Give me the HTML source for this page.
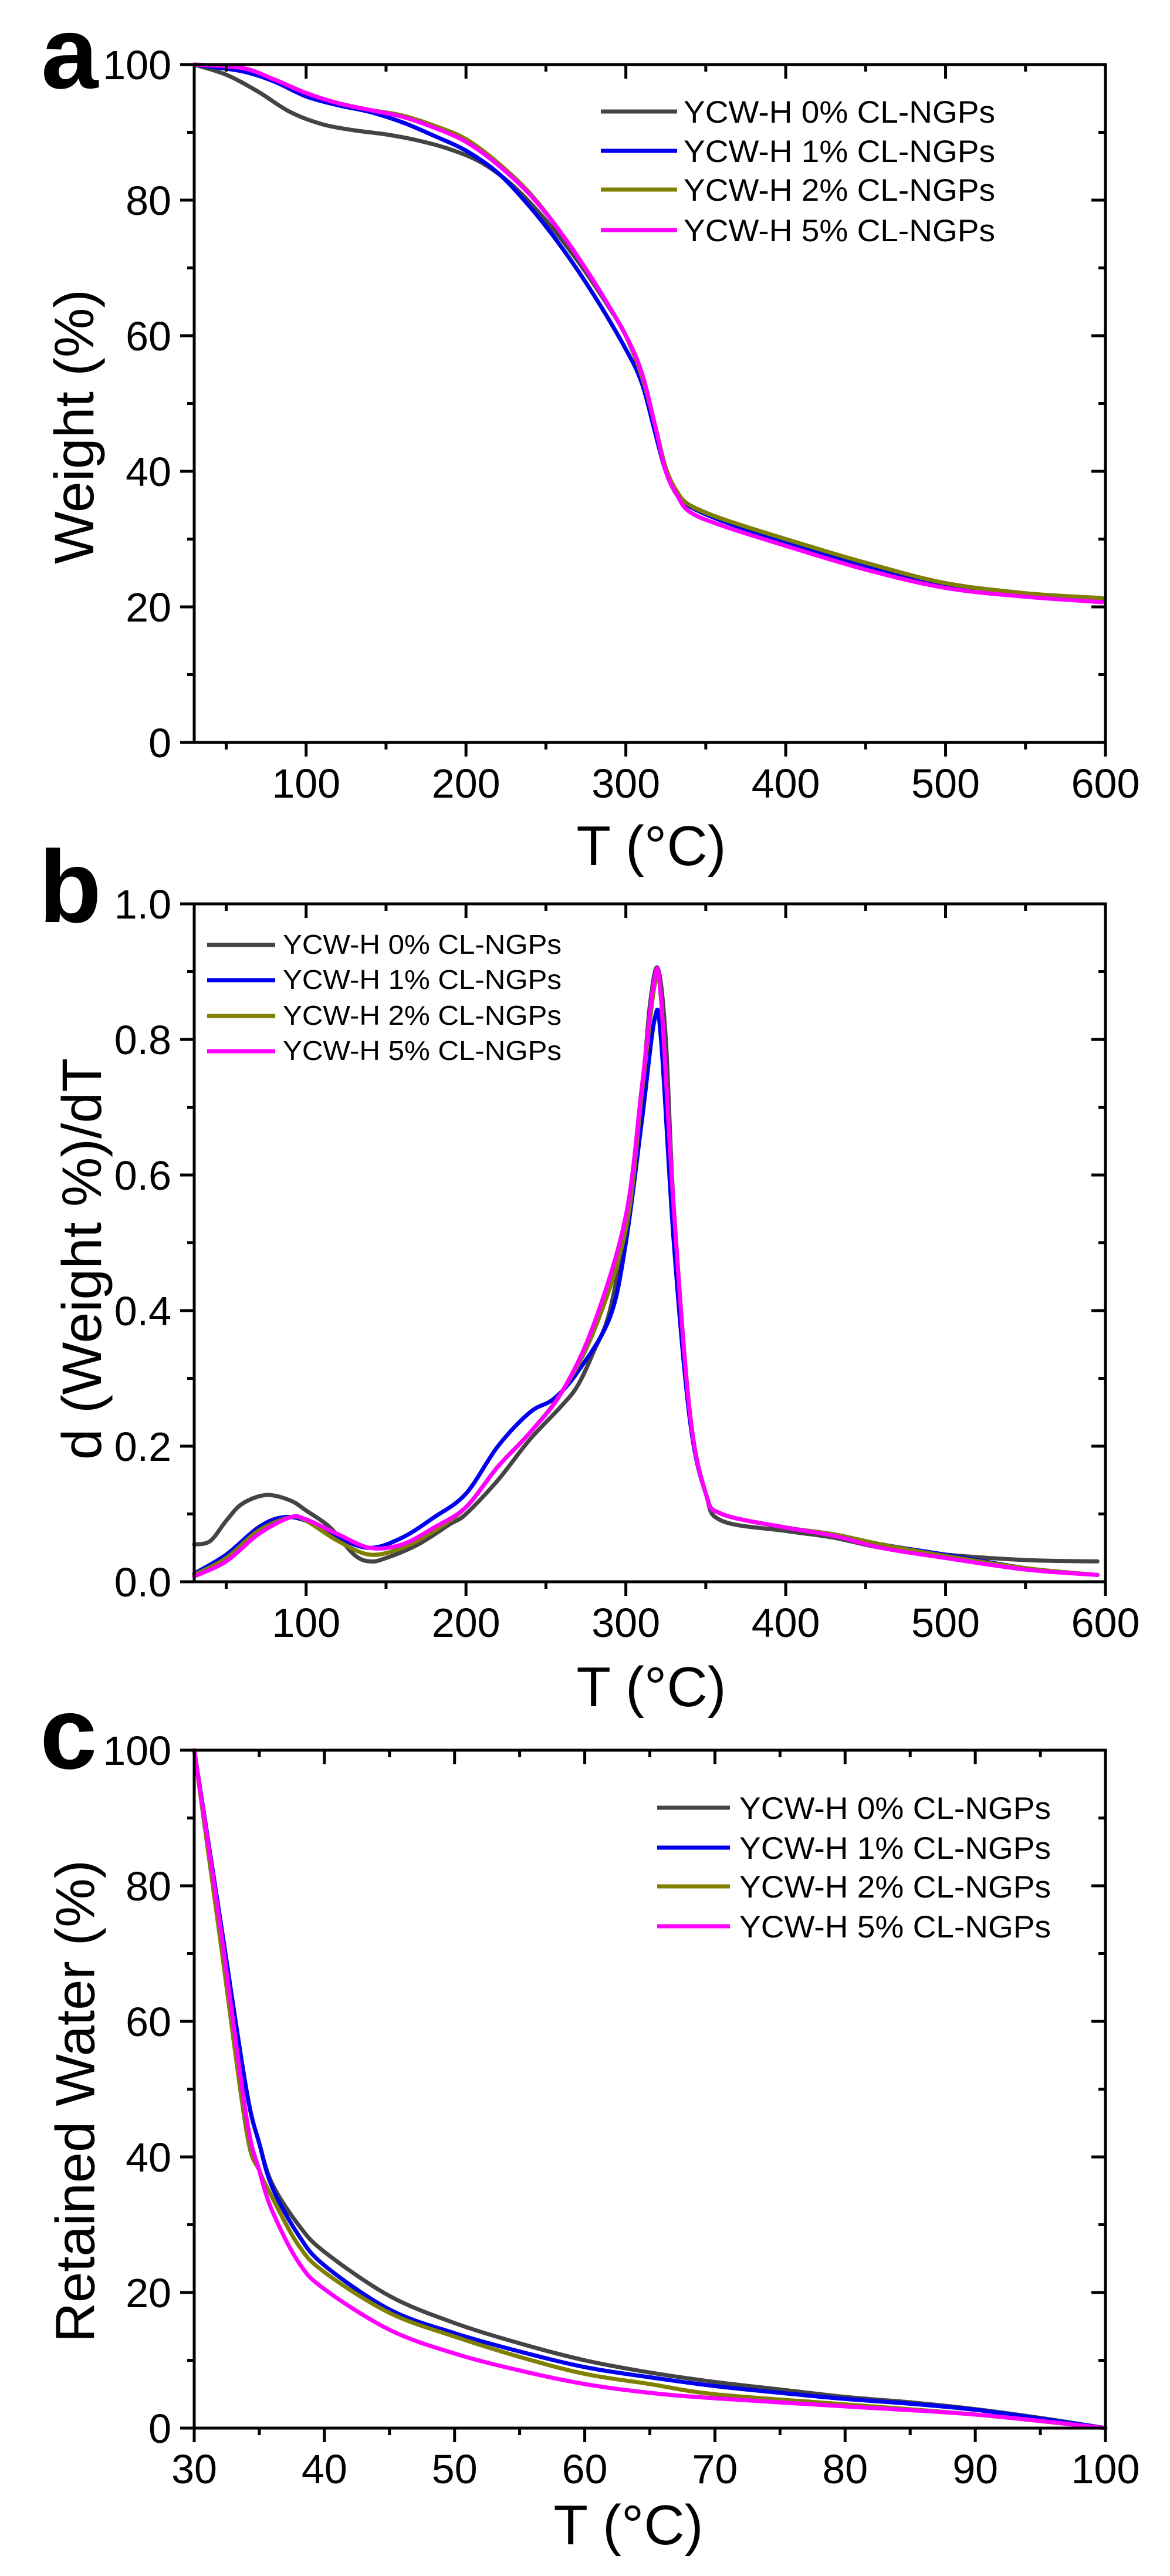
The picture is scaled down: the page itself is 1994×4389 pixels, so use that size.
<!DOCTYPE html>
<html><head><meta charset="utf-8"><style>
html,body{margin:0;padding:0;background:#fff;}
svg{display:block;}
text{font-family:"Liberation Sans",Arial,sans-serif;fill:#000;}
</style></head><body>
<svg id="s" width="1994" height="4389" viewBox="0 0 1994 4389" xmlns="http://www.w3.org/2000/svg">
<rect width="1994" height="4389" fill="#fff"/>
<g id="g"></g>
<text x="70" y="150" font-size="175" font-weight="bold">a</text>
<text x="66" y="1571" font-size="175" font-weight="bold">b</text>
<text x="68" y="3013" font-size="175" font-weight="bold">c</text>
<text transform="translate(127,727) rotate(-90)" text-anchor="middle" dominant-baseline="central" font-size="95">Weight (%)</text>
<text transform="translate(140,2145) rotate(-90)" text-anchor="middle" dominant-baseline="central" font-size="95">d (Weight %)/dT</text>
<text transform="translate(128,3580) rotate(-90)" text-anchor="middle" dominant-baseline="central" font-size="94">Retained Water (%)</text>
<text x="1110" y="1474" text-anchor="middle" font-size="96">T (°C)</text>
<text x="1110" y="2907" text-anchor="middle" font-size="96">T (°C)</text>
<text x="1071" y="4335" text-anchor="middle" font-size="96">T (°C)</text>
</svg>
<script>
const NS="http://www.w3.org/2000/svg";
const G=document.getElementById('g');
function el(t,a,txt){const e=document.createElementNS(NS,t);for(const k in a)e.setAttribute(k,a[k]);if(txt!==undefined)e.textContent=txt;G.appendChild(e);return e;}
const L=331,R=1884;
const COL=['#444444','#0000ee','#808000','#ff00ff'];
function smooth(pts){let d='M'+pts[0][0].toFixed(1)+' '+pts[0][1].toFixed(1);
 for(let i=0;i<pts.length-1;i++){const p0=pts[Math.max(0,i-1)],p1=pts[i],p2=pts[i+1],p3=pts[Math.min(pts.length-1,i+2)];
  const c1=[p1[0]+(p2[0]-p0[0])/6,p1[1]+(p2[1]-p0[1])/6],c2=[p2[0]-(p3[0]-p1[0])/6,p2[1]-(p3[1]-p1[1])/6];
  d+=' C'+c1.map(v=>v.toFixed(1)).join(' ')+' '+c2.map(v=>v.toFixed(1)).join(' ')+' '+p2.map(v=>v.toFixed(1)).join(' ');}
 return d;}
function panel(o){
 const T=o.top,B=o.top+1155;
 const fx=v=>L+(v-o.x0)/(o.x1-o.x0)*(R-L), fy=v=>B-(v-o.y0)/(o.y1-o.y0)*(B-T);
 o.series.forEach((s,i)=>{el('path',{d:smooth(s.map(p=>[fx(p[0]),fy(p[1])])),fill:'none',stroke:COL[i],'stroke-width':7,'stroke-linejoin':'round','stroke-linecap':'round'});});
 el('rect',{x:L,y:T,width:R-L,height:B-T,fill:'none',stroke:'#000','stroke-width':5});
 for(let v=o.xs;v<=o.x1+1e-9;v+=o.xminor){const X=fx(v);const maj=Math.abs(((v-o.xmajorStart)/o.xmajor)-Math.round((v-o.xmajorStart)/o.xmajor))<1e-6;const len=maj?24:12;
  el('line',{x1:X,y1:B,x2:X,y2:B+len,stroke:'#000','stroke-width':5});
  el('line',{x1:X,y1:T,x2:X,y2:T+len,stroke:'#000','stroke-width':5});
  if(maj&&o.xlab(v))el('text',{x:X,y:B+94,'text-anchor':'middle','font-size':70},o.xlab(v));}
 for(let k=0;k<=10;k++){const v=o.y0+k*(o.y1-o.y0)/10;const Y=fy(v);const maj=k%2==0;const len=maj?24:12;
  el('line',{x1:L,y1:Y,x2:L-len,y2:Y,stroke:'#000','stroke-width':5});
  el('line',{x1:R,y1:Y,x2:R-len,y2:Y,stroke:'#000','stroke-width':5});
  if(maj)el('text',{x:292,y:Y+25,'text-anchor':'end','font-size':70},o.ylab(v));}
 const lg=o.leg;
 ['YCW-H 0% CL-NGPs','YCW-H 1% CL-NGPs','YCW-H 2% CL-NGPs','YCW-H 5% CL-NGPs'].forEach((t,i)=>{
  const y=lg.y[i];
  el('line',{x1:lg.x1,y1:y,x2:lg.x2,y2:y,stroke:COL[i],'stroke-width':7});
  el('text',{x:lg.tx,y:y+lg.dy,'font-size':lg.fs,textLength:lg.tw,lengthAdjust:'spacingAndGlyphs'},t);});
}
panel({top:110,x0:30,x1:600,y0:0,y1:100,xs:50,xminor:50,xmajor:100,xmajorStart:0,
 xlab:v=>v>=100?String(v):'',ylab:v=>String(Math.round(v)),
 leg:{x1:1024,x2:1154,tx:1165,tw:531,fs:53,dy:19,y:[190,257,323,392]},
 series:[
 [[30,100],[50,98.5],[70,96],[90,93],[110,91.2],[130,90.3],[150,89.7],[170,88.8],[190,87.5],[210,85.5],[230,82],[250,77],[270,71],[290,64],[300,60],[310,54],[318,46],[325,40],[332,36.5],[340,35],[360,33],[400,30],[450,26.5],[500,23.5],[550,22],[598,21]],
 [[30,100],[60,99],[80,97.5],[100,95.3],[120,94],[140,93],[160,91.5],[180,89.5],[200,87.3],[220,84],[240,79],[260,73],[280,66],[300,58],[310,53],[318,46],[325,40],[332,36.5],[340,34.8],[360,32.7],[400,29.5],[450,26],[500,23],[550,21.8],[598,21]],
 [[30,100],[60,99.5],[80,97.8],[100,95.8],[120,94.3],[140,93.3],[160,92.5],[180,91],[200,89],[220,85.5],[240,81],[260,75],[280,68],[300,60],[310,54],[318,47],[325,40.5],[332,37],[340,35],[360,33],[400,30],[450,26.5],[500,23.5],[550,22],[598,21.3]],
 [[30,100],[60,99.5],[80,97.8],[100,95.8],[120,94.3],[140,93.3],[160,92.3],[180,90.7],[200,88.6],[220,85.2],[240,80.8],[260,75],[280,68],[300,60],[310,54.5],[318,47],[325,40],[332,36.5],[340,34],[360,32],[400,29],[450,25.5],[500,22.8],[550,21.5],[598,20.7]]
 ]});
panel({top:1540,x0:30,x1:600,y0:0,y1:1,xs:50,xminor:50,xmajor:100,xmajorStart:0,
 xlab:v=>v>=100?String(v):'',ylab:v=>v.toFixed(1),
 leg:{x1:353,x2:469,tx:482,tw:475,fs:46,dy:15,y:[1610,1670,1731,1791]},
 series:[
 [[30,0.055],[40,0.06],[50,0.09],[60,0.115],[75,0.128],[90,0.12],[100,0.105],[115,0.08],[130,0.04],[140,0.03],[150,0.035],[170,0.055],[190,0.085],[200,0.1],[220,0.15],[240,0.21],[260,0.26],[270,0.29],[280,0.34],[290,0.4],[300,0.53],[310,0.72],[315,0.85],[320,0.905],[325,0.8],[330,0.55],[340,0.25],[350,0.13],[360,0.09],[400,0.075],[430,0.065],[460,0.05],[500,0.04],[550,0.032],[595,0.03]],
 [[30,0.012],[50,0.04],[70,0.08],[85,0.095],[100,0.09],[120,0.065],[140,0.05],[160,0.065],[180,0.095],[200,0.13],[220,0.2],[240,0.25],[255,0.27],[270,0.31],[290,0.39],[300,0.5],[310,0.68],[318,0.83],[322,0.8],[330,0.5],[340,0.24],[350,0.13],[360,0.1],[400,0.08],[430,0.07],[460,0.055],[500,0.04],[550,0.02],[595,0.01]],
 [[30,0.01],[50,0.035],[70,0.075],[90,0.095],[100,0.09],[120,0.06],[140,0.04],[160,0.05],[180,0.075],[200,0.11],[220,0.17],[240,0.22],[260,0.28],[280,0.37],[300,0.52],[310,0.72],[318,0.88],[322,0.86],[330,0.55],[340,0.25],[350,0.13],[360,0.1],[400,0.08],[430,0.07],[460,0.055],[500,0.038],[550,0.02],[595,0.01]],
 [[30,0.008],[50,0.03],[70,0.07],[90,0.095],[100,0.092],[120,0.07],[140,0.05],[160,0.055],[180,0.08],[200,0.11],[220,0.17],[240,0.22],[260,0.28],[280,0.38],[300,0.54],[310,0.73],[318,0.89],[322,0.86],[330,0.55],[340,0.25],[350,0.13],[360,0.1],[400,0.08],[430,0.068],[460,0.05],[500,0.035],[550,0.018],[595,0.01]]
 ]});
panel({top:2982,x0:30,x1:100,y0:0,y1:100,xs:30,xminor:5,xmajor:10,xmajorStart:30,
 xlab:v=>String(Math.round(v)),ylab:v=>String(Math.round(v)),
 leg:{x1:1120,x2:1244,tx:1260,tw:531,fs:53,dy:19,y:[3080,3148,3214,3282]},
 series:[
 [[30,100],[32,75],[34,50],[35,42],[36,36],[38,30],[40,26],[45,19.5],[50,15.5],[55,12.5],[60,10],[65,8.2],[70,6.8],[75,5.7],[80,4.6],[85,3.8],[90,2.8],[95,1.5],[100,0]],
 [[30,100],[32,75],[34,50],[35,42],[36,35.5],[38,28.5],[40,24],[45,17.5],[50,14],[55,11.3],[60,9],[65,7.5],[70,6.2],[75,5.2],[80,4.3],[85,3.6],[90,2.7],[95,1.4],[100,0]],
 [[30,100],[32,72],[34,44],[35,38],[36,34],[38,27],[40,23],[45,17],[50,13.5],[55,10.5],[60,8],[65,6.5],[70,5],[80,3.5],[90,2],[100,0]],
 [[30,100],[32,74],[34,46],[35,38],[36,32],[38,24.5],[40,20.5],[45,14.5],[50,11],[55,8.5],[60,6.5],[65,5.2],[70,4.4],[80,3.2],[90,2],[100,0]]
 ]});
</script>
</body></html>
